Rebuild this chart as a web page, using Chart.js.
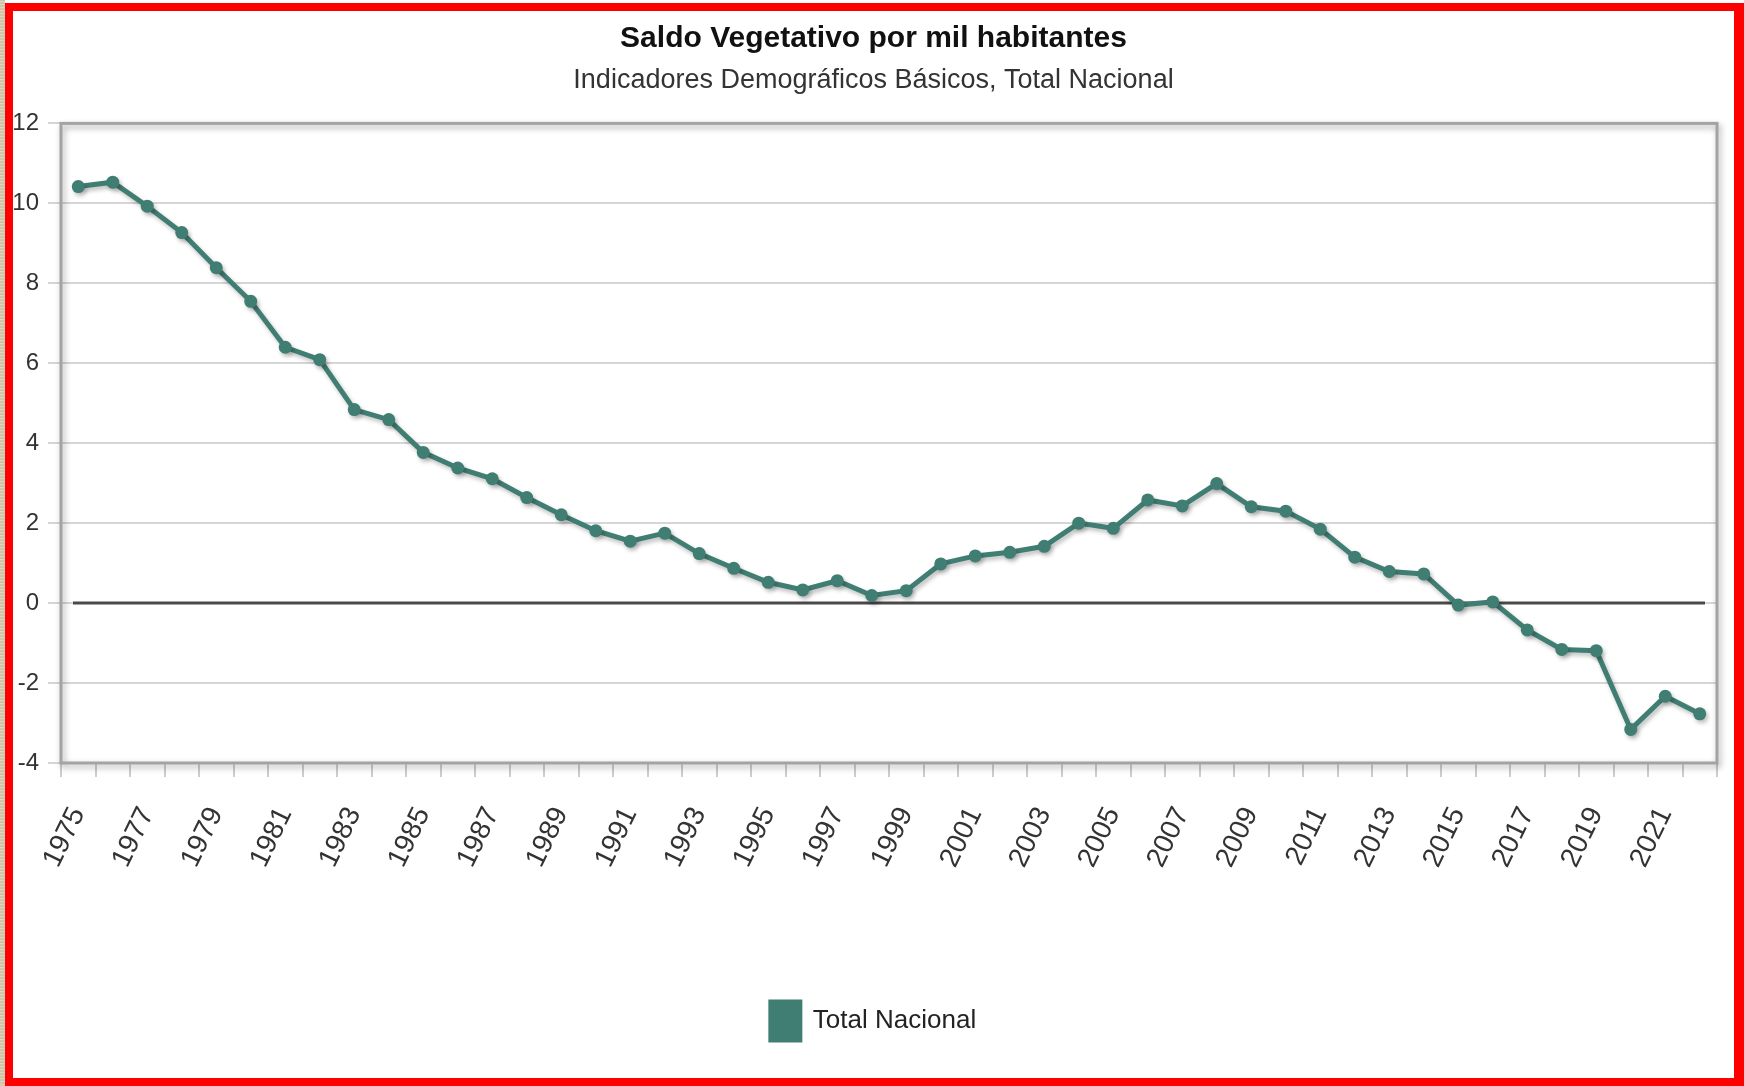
<!DOCTYPE html>
<html>
<head>
<meta charset="utf-8">
<title>Saldo Vegetativo por mil habitantes</title>
<script src="https://cdn.jsdelivr.net/npm/chart.js@4.4.1/dist/chart.umd.min.js"></script>
<style>
  html, body { margin: 0; padding: 0; background: #fff; }
  #strip {
    position: absolute; left: 0; top: 0; width: 5px; height: 1086px;
    background: repeating-linear-gradient(0deg, #cbbf9f 0px, #e4dccb 2px, #b9ab88 3px);
  }
  #frame {
    position: absolute; left: 5px; top: 3px; width: 1739px; height: 1083px;
    box-sizing: border-box; border: 8px solid #ff0000; border-right-width: 10px;
    background: #fff;
  }
  #chart { display: block; }
</style>
</head>
<body>
<div id="strip"></div>
<div id="frame">
  <canvas id="chart" width="1721" height="1067"></canvas>
</div>
<script>
  // años
  const years = [
    1975, 1976, 1977, 1978, 1979, 1980, 1981, 1982, 1983, 1984,
    1985, 1986, 1987, 1988, 1989, 1990, 1991, 1992, 1993, 1994,
    1995, 1996, 1997, 1998, 1999, 2000, 2001, 2002, 2003, 2004,
    2005, 2006, 2007, 2008, 2009, 2010, 2011, 2012, 2013, 2014,
    2015, 2016, 2017, 2018, 2019, 2020, 2021, 2022
  ];

  // saldo vegetativo por mil habitantes
  const totalNacional = [
    10.42, 10.53, 9.93, 9.27, 8.39, 7.55, 6.40, 6.09, 4.84, 4.59,
    3.77, 3.38, 3.11, 2.64, 2.21, 1.81, 1.55, 1.75, 1.24, 0.87,
    0.52, 0.33, 0.56, 0.19, 0.31, 0.98, 1.18, 1.27, 1.42, 2.00,
    1.87, 2.58, 2.43, 2.99, 2.41, 2.30, 1.85, 1.15, 0.79, 0.73,
    -0.05, 0.03, -0.67, -1.16, -1.19, -3.16, -2.33, -2.77
  ];

  const yTicks = [-4, -2, 0, 2, 4, 6, 8, 10, 12];

  const lineColor = '#407e73';
  const fontFamily = '"Liberation Sans", Arial, Helvetica, sans-serif';

  // marco del área de trazado con sombra + línea del cero
  const plotFrame = {
    id: 'plotFrame',
    beforeDatasetsDraw(chart) {
      const { ctx, chartArea: a } = chart;
      ctx.save();
      ctx.shadowColor = 'rgba(0, 0, 0, 0.35)';
      ctx.shadowBlur = 6;
      ctx.shadowOffsetX = 2;
      ctx.shadowOffsetY = 3;
      ctx.strokeStyle = '#a3a3a3';
      ctx.lineWidth = 3;
      ctx.strokeRect(a.left, a.top, a.right - a.left, a.bottom - a.top);
      ctx.restore();

      const y0 = chart.scales.y.getPixelForValue(0);
      ctx.save();
      ctx.strokeStyle = '#4a4a4a';
      ctx.lineWidth = 3;
      ctx.beginPath();
      ctx.moveTo(a.left + 12, y0);
      ctx.lineTo(a.right - 12, y0);
      ctx.stroke();
      ctx.restore();
    }
  };

  // sombra de la serie
  const lineShadow = {
    id: 'lineShadow',
    beforeDatasetsDraw(chart) {
      const ctx = chart.ctx;
      ctx.save();
      ctx.shadowColor = 'rgba(0, 0, 0, 0.25)';
      ctx.shadowBlur = 4;
      ctx.shadowOffsetX = 2;
      ctx.shadowOffsetY = 3;
    },
    afterDatasetsDraw(chart) {
      chart.ctx.restore();
    }
  };

  const ctx = document.getElementById('chart');

  new Chart(ctx, {
    type: 'line',
    data: {
      labels: years,
      datasets: [{
        label: 'Total Nacional',
        data: totalNacional,
        borderColor: lineColor,
        backgroundColor: lineColor,
        borderWidth: 5,
        pointRadius: 6.5,
        pointBorderWidth: 0,
        pointBackgroundColor: lineColor,
        tension: 0,
        fill: false
      }]
    },
    options: {
      responsive: false,
      animation: false,
      layout: { padding: { left: 0, right: 0, top: 0, bottom: 28 } },
      scales: {
        x: {
          type: 'category',
          offset: true,
          border: { display: false },
          grid: {
            offset: true,
            drawOnChartArea: false,
            drawTicks: true,
            tickLength: 14,
            color: '#cdcdcd',
            lineWidth: 2
          },
          ticks: {
            autoSkip: false,
            minRotation: 64,
            maxRotation: 64,
            padding: 25,
            color: '#333',
            font: { family: fontFamily, size: 28 },
            callback: function (value, index) {
              return index % 2 === 0 ? String(years[index]) : '';
            }
          },
          afterFit: function (scale) {
            scale.height = 229;
            scale.paddingLeft = 0;
            scale.paddingRight = 17;
          }
        },
        y: {
          min: yTicks[0],
          max: yTicks[yTicks.length - 1],
          border: { display: false },
          afterBuildTicks: function (scale) {
            scale.ticks = yTicks.map(v => ({ value: v }));
          },
          grid: {
            color: '#d6d6d6',
            lineWidth: 2,
            tickLength: 13
          },
          ticks: {
            padding: 9,
            color: '#333',
            font: { family: fontFamily, size: 24 }
          },
          afterFit: function (scale) { scale.width = 48; }
        }
      },
      plugins: {
        title: {
          display: true,
          text: 'Saldo Vegetativo por mil habitantes',
          color: '#111',
          font: { family: fontFamily, size: 30, weight: 'bold' },
          padding: { top: 10, bottom: 4 }
        },
        subtitle: {
          display: true,
          text: 'Indicadores Demográficos Básicos, Total Nacional',
          color: '#333',
          font: { family: fontFamily, size: 27 },
          padding: { top: 3, bottom: 27 }
        },
        legend: {
          display: true,
          position: 'bottom',
          labels: {
            boxWidth: 29,
            boxHeight: 38,
            padding: 10,
            color: '#222',
            font: { family: fontFamily, size: 26 }
          }
        },
        tooltip: { enabled: false }
      }
    },
    plugins: [plotFrame, lineShadow]
  });
</script>
</body>
</html>
